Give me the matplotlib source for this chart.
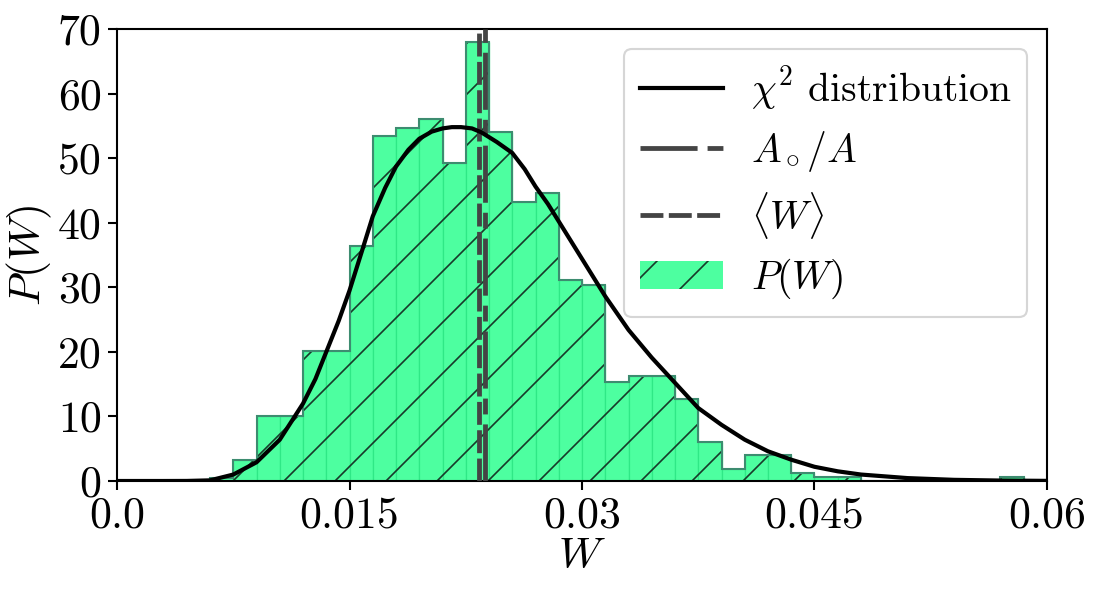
import numpy as np
import matplotlib.pyplot as plt

DPI = 153
S = 300 / DPI  # sizes below were measured for a 300 dpi canvas

plt.rcParams['mathtext.fontset'] = 'cm'
plt.rcParams['font.family'] = 'serif'
plt.rcParams['font.serif'] = ['cmr10', 'DejaVu Serif']
plt.rcParams['axes.formatter.use_mathtext'] = True
plt.rcParams['font.size'] = 10.5 * S
plt.rcParams['lines.scale_dashes'] = False
plt.rcParams['hatch.linewidth'] = 0.4 * S

# histogram P(W): bin edges step 0.0015, heights
bin_edges = np.round(np.arange(0.006, 0.0585 + 1e-9, 0.0015), 5)
bin_heights = [0.42, 3.3, 10.1, 10.1, 20.2, 20.2, 36.4, 53.4, 54.7, 56.0,
               49.2, 68.0, 54.0, 43.2, 44.6, 31.1, 30.3, 15.4, 16.2, 16.2,
               12.7, 6.05, 1.93, 4.0, 4.0, 1.26, 0.6, 0.6, 0, 0,
               0, 0, 0, 0, 0.6]

# chi^2 curve, points
chi_w = [0.0, 0.003, 0.0045, 0.006, 0.0075, 0.009, 0.0105, 0.012, 0.0128,
         0.0135, 0.0143, 0.015, 0.0158, 0.0165, 0.0173, 0.018, 0.0188, 0.0195,
         0.0203, 0.021, 0.0216, 0.0222, 0.0229, 0.0235, 0.0245, 0.0255, 0.0263,
         0.027, 0.0278, 0.0285, 0.030, 0.0315, 0.033, 0.0345, 0.036, 0.0375,
         0.039, 0.0405, 0.042, 0.0435, 0.045, 0.0465, 0.048, 0.051, 0.054,
         0.057, 0.060]
chi_p = [0.0, 0.0, 0.01, 0.1, 1.0, 2.9, 6.4, 12.0, 15.8,
         20.0, 24.8, 29.5, 35.6, 41.0, 45.4, 48.7, 51.3, 53.0,
         54.1, 54.6, 54.8, 54.8, 54.6, 54.0, 52.5, 50.8, 48.3,
         45.6, 42.9, 40.2, 34.4, 28.6, 23.4, 19.1, 15.2, 11.3,
         8.7, 6.4, 4.6, 3.3, 2.2, 1.5, 1.0, 0.45, 0.18,
         0.07, 0.02]

mean_w = 0.02337   # <W>
ratio_a = 0.02374  # A_o/A

xticks = [0.0, 0.015, 0.03, 0.045, 0.06]
yticks = [0, 10, 20, 30, 40, 50, 60, 70]

fig = plt.figure(figsize=(1097 / DPI, 595 / DPI), dpi=DPI)
ax = fig.add_axes([0.1067, 0.1916, 0.8477, 0.7597])

green = '#4dffa0'
ax.bar(bin_edges[:-1], bin_heights, width=0.0015, align='edge',
       facecolor=green, edgecolor='#2fe886', linewidth=0.3 * S, zorder=1)
ax.bar(bin_edges[:-1], bin_heights, width=0.0015, align='edge',
       facecolor='none', edgecolor='#173a2a', linewidth=0, hatch='/', zorder=1.5)
ax.stairs(bin_heights, bin_edges, color='#3d8c70', linewidth=0.5 * S, zorder=2)

ax.plot(chi_w, chi_p, color='black', linewidth=1.0 * S, zorder=4,
        label=r'$\chi^2$ distribution')
ax.axvline(ratio_a, color='#444444', linewidth=1.15 * S,
           dashes=(13.7 * S, 2.4 * S, 3.8 * S, 2.4 * S),
           zorder=3, label=r'$A_\circ/A$')
ax.axvline(mean_w, color='#444444', linewidth=1.15 * S,
           dashes=(5.5 * S, 1.3 * S), zorder=3, label=r'$\langle W\rangle$')
# legend proxy for the histogram
ax.bar([np.nan], [np.nan], facecolor=green, edgecolor='#173a2a', linewidth=0,
       hatch='/', label=r'$P(W)$')

ax.set_xlim(0, 0.06)
ax.set_ylim(0, 70)
ax.set_xticks(xticks)
ax.set_xticklabels([str(t) for t in xticks])
ax.set_yticks(yticks)
ax.set_yticklabels([str(t) for t in yticks])
ax.tick_params(length=2.2 * S, width=0.5 * S, pad=1.5 * S)
for s in ax.spines.values():
    s.set_linewidth(0.5 * S)

ax.set_xlabel(r'$W$', labelpad=0)
ax.set_ylabel(r'$P(W)$', labelpad=1 * S)

ax.legend(loc='upper right', fontsize=9.5 * S, labelspacing=0.4,
          handletextpad=0.7, handlelength=2.1,
          framealpha=0.8, edgecolor='0.8')

fig.savefig('out.png', dpi=DPI)
